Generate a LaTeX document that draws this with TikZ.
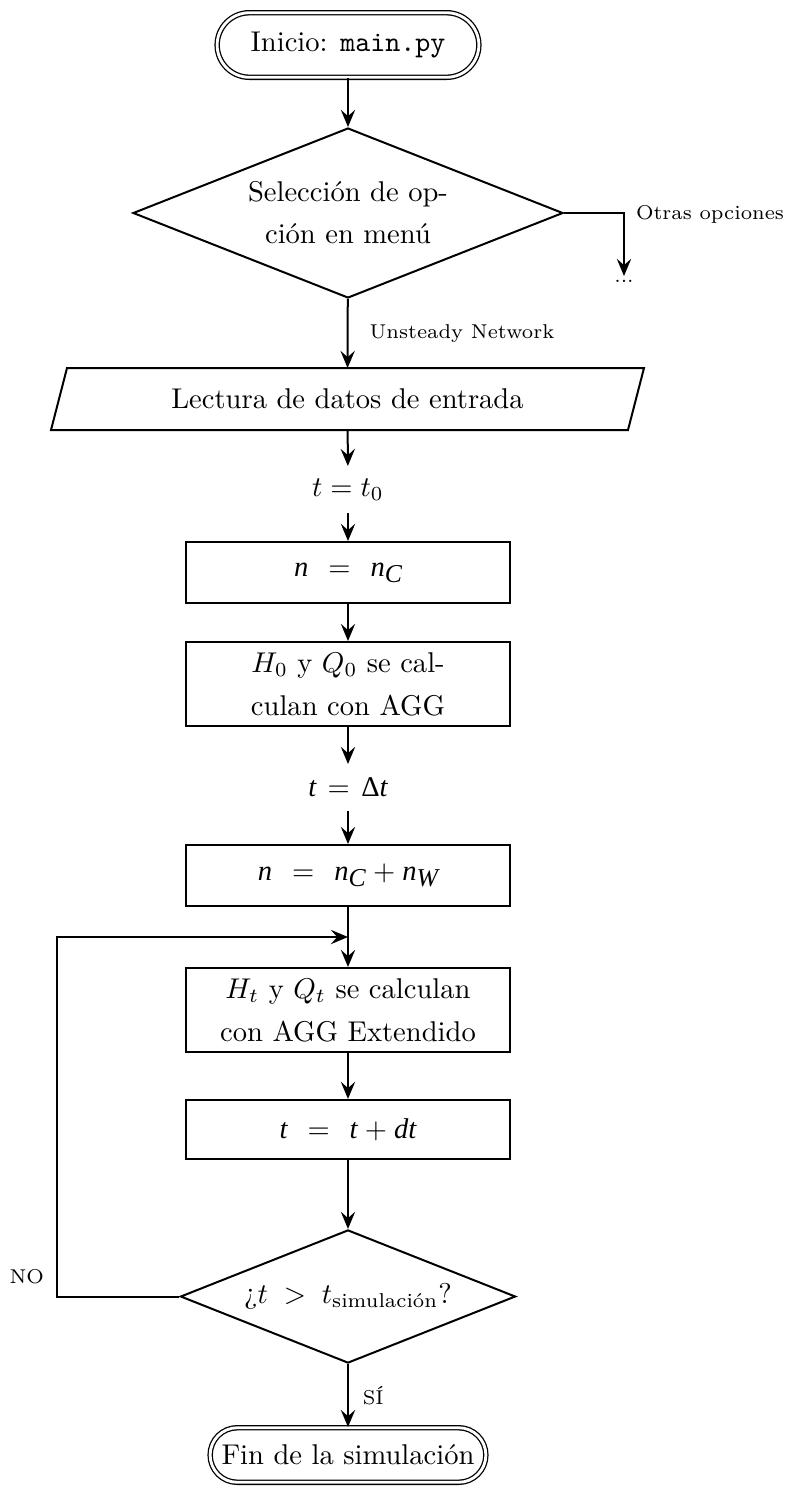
\documentclass[tikz,border=0pt]{standalone}
\usepackage{fontspec}
\usepackage{amsmath}
\newfontfamily\tmsfont{Liberation Serif}
\newfontfamily\tmsit{Liberation Serif Italic}
\usetikzlibrary{shapes.geometric,arrows.meta}
% italic Times-style variables used inside some boxes
\newcommand{\tv}[1]{{\tmsit #1}}
\newcommand{\tsb}[1]{\raisebox{-0.5ex}{\small\tmsit #1}}
\begin{document}
\begin{tikzpicture}[x=0.35pt,y=-0.35pt,
  line width=0.7pt,
  arr/.style={-{Stealth[length=6pt,width=5pt,inset=2.2pt]}},
  term/.style={draw, double, line width=0.45pt, double distance=1pt,
    rectangle, inner sep=1pt, align=center},
  decision/.style={draw, diamond, aspect=2.5, inner sep=0pt, align=center,
    font=\fontsize{10pt}{14.7pt}\selectfont},
  process/.style={draw, rectangle, minimum width=113.4pt, inner sep=2pt,
    align=center, font=\fontsize{10pt}{15pt}\selectfont},
  io/.style={rectangle, inner sep=2pt, minimum width=201.25pt, minimum height=21pt},
  assign/.style={inner sep=0pt, minimum height=15.75pt},
  lbl/.style={font=\scriptsize}
]
\useasboundingbox (0,0) rectangle (785,1486);

% ---- nodes ----
\node[term, rounded corners=11.3pt, minimum width=91.6pt, minimum height=22.6pt]
  (start) at (348,45) {Inicio: \texttt{main.py}};
\node[decision, minimum width=150.5pt, minimum height=59.5pt]
  (d1) at (348,213) {Selección de op-\\ción en menú};
\node[lbl, anchor=north, inner sep=1pt] (dots) at (624,276) {...};
\node[lbl, anchor=west, inner sep=0pt] (otras) at (635,214) {Otras opciones};
\node[io] (par) at (347.5,399) {Lectura de datos de entrada};
% slanted input/output outline around the text
\draw ([xshift=-2.8pt]par.south west) -- ([xshift=-2.8pt]par.south east)
  -- ([xshift=2.8pt]par.north east) -- ([xshift=2.8pt]par.north west) -- cycle;
\node[assign] (t0) at (348,489.5) {$t = t_0$};
\node[process, minimum height=21.35pt] (b1) at (348,572.5)
  {\tv{n}\hspace{7pt}=\hspace{7pt}\tv{n}\tsb{C}};
\node[process, minimum height=29.4pt] (b2) at (348,684)
  {$H_0$ y $Q_0$ se cal-\\culan con AGG};
\node[assign] (dt) at (348,787.5) {\tv{t}\hspace{4pt}=\hspace{4pt}{\tmsfont Δ}\tv{t}};
\node[process, minimum height=21.35pt] (b3) at (348,875.5)
  {\tv{n}\hspace{7pt}=\hspace{7pt}\tv{n}\tsb{C}\hspace{2.5pt}$+$\hspace{2.5pt}\tv{n}\tsb{W}};
\node[process, minimum height=29.4pt] (b4) at (348,1010)
  {$H_t$ y $Q_t$ se calculan\\con AGG Extendido};
\node[process, minimum height=20.7pt] (b5) at (348,1129.5)
  {\tv{t}\hspace{7pt}=\hspace{7pt}\tv{t}\hspace{2.5pt}$+$\hspace{2.5pt}\tv{dt}};
\node[decision, minimum width=117.3pt, minimum height=46.6pt]
  (d2) at (348,1296.5) {¿$t \;>\; t_{\text{simulación}}$?};
\node[term, rounded corners=9.5pt, minimum width=96.5pt, minimum height=19.1pt]
  (end) at (348,1455) {Fin de la simulación};
\node[lbl, anchor=east, inner sep=0pt] (no) at (45,1277) {NO};

\coordinate (lc) at (57,1296.5);
\coordinate (j) at (348,937);

% ---- connectors ----
\draw[arr] (start) -- (d1);
\draw[arr] (d1.east) -| (dots.north);
\draw[arr] (d1) -- node[lbl, right=4pt] {Unsteady Network} (par);
\draw[arr] (par) -- (t0);
\draw[arr] (t0) -- (b1);
\draw[arr] (b1) -- (b2);
\draw[arr] (b2) -- (dt);
\draw[arr] (dt) -- (b3);
\draw[arr] (b3) -- (b4);
\draw[arr] (b4) -- (b5);
\draw[arr] (b5) -- (d2);
\draw[arr] (d2) -- node[lbl, right=1.5pt] {SÍ} (end);
\draw[arr] (d2.west) -- (lc) |- (j);
\end{tikzpicture}
\end{document}
